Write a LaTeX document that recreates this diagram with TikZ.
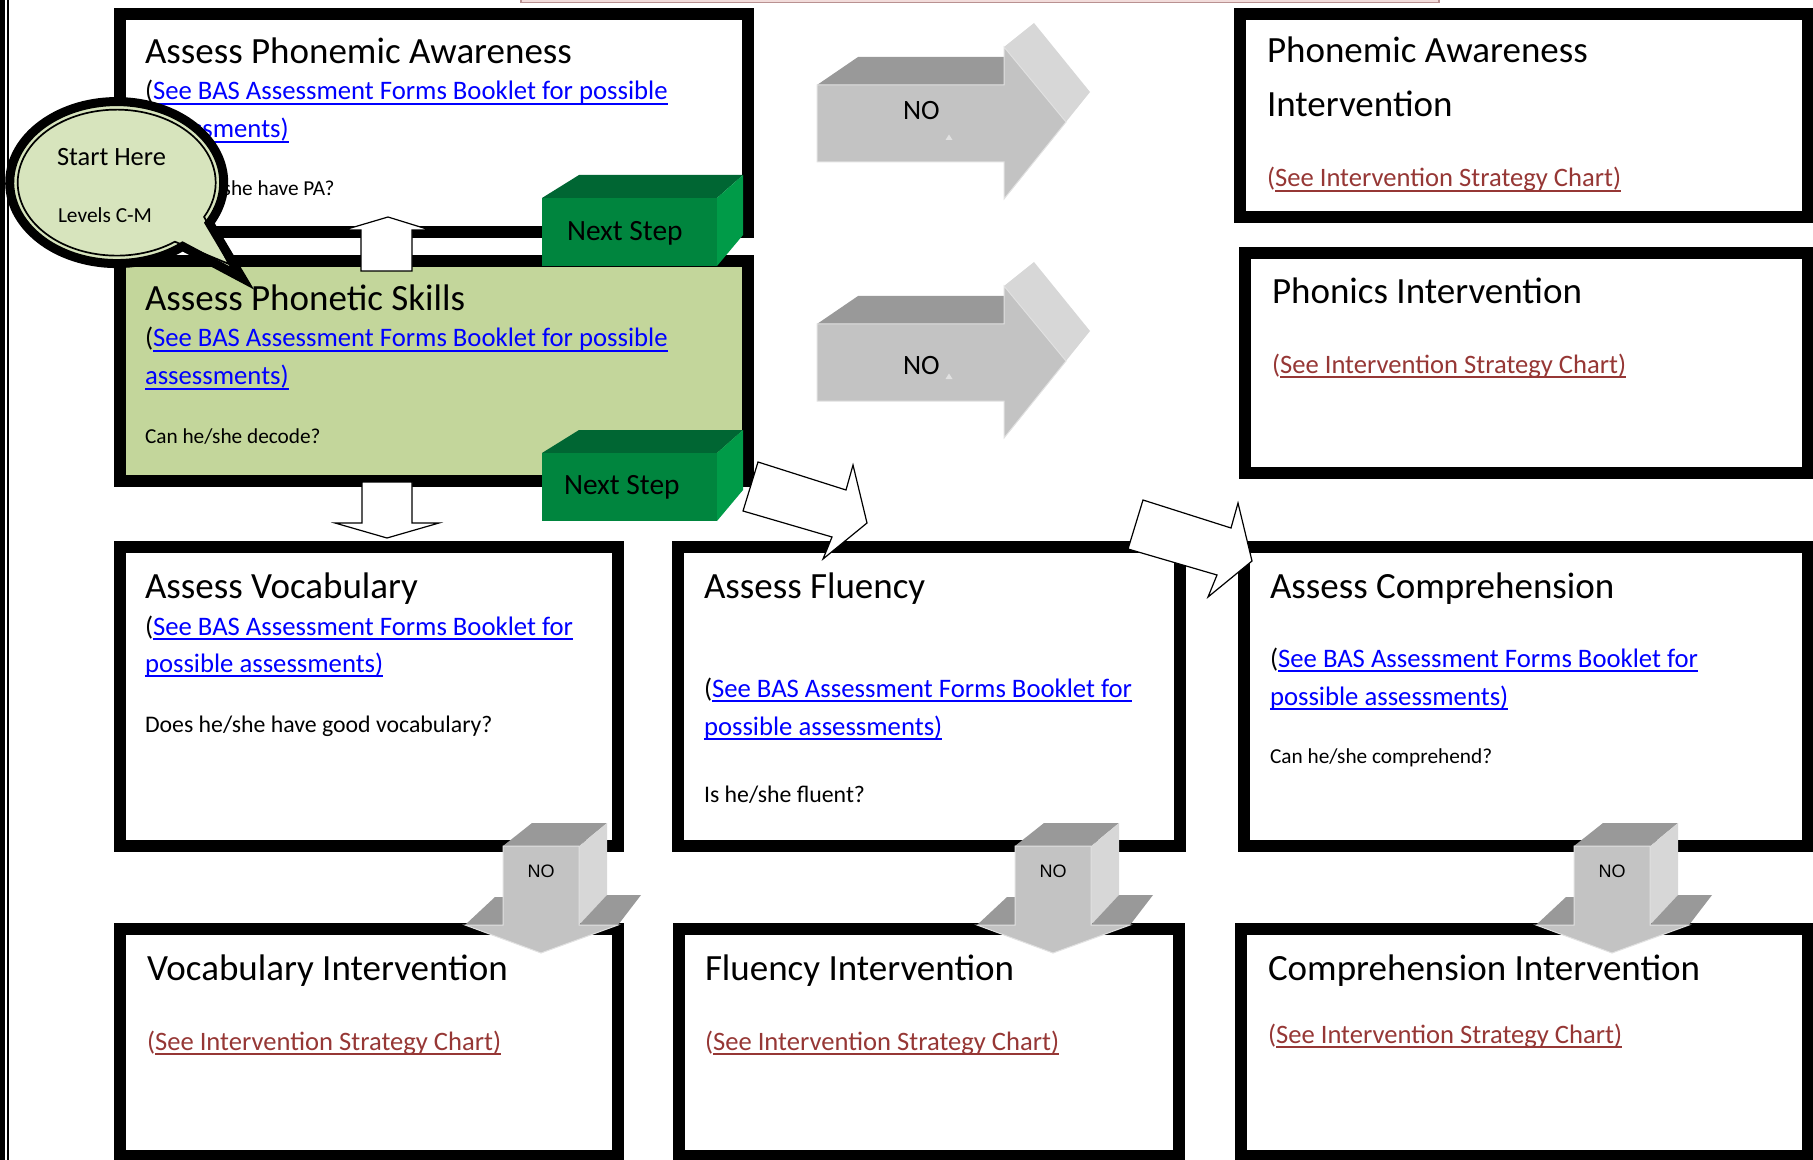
\documentclass[tikz,border=0pt]{standalone}
\usepackage{fontspec}
\setmainfont{Carlito}
\newfontfamily\arialf{Liberation Sans}
\newcommand{\myul}[1]{\setbox0=\hbox{#1}\rlap{\rule[-2.3pt]{\wd0}{0.7pt}}\box0}
\definecolor{lnkblue}{RGB}{0,0,255}
\definecolor{ibrown}{RGB}{150,55,53}
\definecolor{skillgreen}{RGB}{195,214,155}
\definecolor{bubblegreen}{RGB}{215,228,189}
\definecolor{gfront}{RGB}{0,133,62}
\definecolor{gtop}{RGB}{0,102,51}
\definecolor{gside}{RGB}{0,155,72}
\definecolor{ntop}{RGB}{153,153,153}
\definecolor{nfront}{RGB}{195,195,195}
\definecolor{nside}{RGB}{215,215,215}
\definecolor{nedge}{RGB}{225,225,225}
\definecolor{pinkline}{RGB}{185,145,145}
\definecolor{pinkfill}{RGB}{242,220,219}
\begin{document}
\begin{tikzpicture}[x=0.5pt,y=-0.5pt,
  bx/.style={draw=black, line width=6pt, fill=white, rectangle, inner sep=0pt, outer sep=0pt},
  tx/.style={anchor=base west, inner sep=0pt, outer sep=0pt},
  ttl/.style={tx, font=\fontsize{18.5}{22}\selectfont},
  lnk/.style={tx, font=\fontsize{13.35}{16}\selectfont},
  ilnk/.style={tx, font=\fontsize{13.3}{16}\selectfont, text=ibrown},
  qs/.style={tx, font=\fontsize{10.65}{13}\selectfont},
  qb/.style={tx, font=\fontsize{11.9}{14}\selectfont},
  nxt/.style={tx, font=\fontsize{14.7}{17}\selectfont},
  nor/.style={tx, font=\fontsize{14}{17}\selectfont},
  nod/.style={anchor=base, inner sep=0pt, font=\arialf\fontsize{9}{11}\selectfont},
  wa/.style={fill=white, draw=black, line width=0.6pt, line join=miter}]
\useasboundingbox (0,0) rectangle (1813,1160);
\begin{scope}
\clip (0,0) rectangle (1813,1160);
% page border and top bar
\fill[black] (0,0) rectangle (4.5,1160);
\fill[black] (7.3,0) rectangle (9.3,1160);
\filldraw[fill=pinkfill, draw=pinkline, line width=0.8pt] (521,-10) rectangle (1439,2.5);

% boxes
\node[bx, minimum width=314pt, minimum height=109pt] (pa) at (434,123) {};
\node[bx, fill=skillgreen, minimum width=314pt, minimum height=110pt] (ps) at (434,371) {};
\node[bx, minimum width=284pt, minimum height=101.5pt] (pai) at (1524,115.5) {};
\node[bx, minimum width=281.5pt, minimum height=110pt] (pi) at (1526.5,363) {};
\node[bx, minimum width=249pt, minimum height=149.5pt] (av) at (369,696.5) {};
\node[bx, minimum width=251pt, minimum height=149.5pt] (af) at (929,696.5) {};
\node[bx, minimum width=282pt, minimum height=149.5pt] (ac) at (1526,696.5) {};
\node[bx, minimum width=249pt, minimum height=113.5pt] (vi) at (369,1042.5) {};
\node[bx, minimum width=250pt, minimum height=113.5pt] (fi) at (929,1042.5) {};
\node[bx, minimum width=283.5pt, minimum height=113.5pt] (ci) at (1524.5,1042.5) {};

% texts row 1
\node[ttl] (pa-t) at (145,64) {Assess Phonemic Awareness};
\node[lnk] (pa-l1) at (145,100) {(\textcolor{lnkblue}{\myul{See BAS Assessment Forms Booklet for possible}}};
\node[lnk] (pa-l2) at (145,138) {\textcolor{lnkblue}{\myul{assessments)}}};
\node[qs] (pa-q) at (145,196) {Does he/she have PA?};

\node[ttl] (ps-t) at (145,311) {Assess Phonetic Skills};
\node[lnk] (ps-l1) at (145,347) {(\textcolor{lnkblue}{\myul{See BAS Assessment Forms Booklet for possible}}};
\node[lnk] (ps-l2) at (145,385) {\textcolor{lnkblue}{\myul{assessments)}}};
\node[qs] (ps-q) at (145,443) {Can he/she decode?};

\node[ttl] (pai-t1) at (1267,63) {Phonemic Awareness};
\node[ttl] (pai-t2) at (1267,117) {Intervention};
\node[ilnk] (pai-l) at (1267,187) {(\myul{See Intervention Strategy Chart)}};

\node[ttl] (pi-t) at (1272,304) {Phonics Intervention};
\node[ilnk] (pi-l) at (1272,373) {(\myul{See Intervention Strategy Chart)}};

% texts row 2
\node[ttl] (av-t) at (145,598) {Assess Vocabulary};
\node[lnk] (av-l1) at (145,635) {(\textcolor{lnkblue}{\myul{See BAS Assessment Forms Booklet for}}};
\node[lnk] (av-l2) at (145,672) {\textcolor{lnkblue}{\myul{possible assessments)}}};
\node[qb] (av-q) at (145,732) {Does he/she have good vocabulary?};

\node[ttl] (af-t) at (704,598) {Assess Fluency};
\node[lnk] (af-l1) at (704,697) {(\textcolor{lnkblue}{\myul{See BAS Assessment Forms Booklet for}}};
\node[lnk] (af-l2) at (704,735) {\textcolor{lnkblue}{\myul{possible assessments)}}};
\node[qb] (af-q) at (704,802) {Is he/she fluent?};

\node[ttl] (ac-t) at (1270,598) {Assess Comprehension};
\node[lnk] (ac-l1) at (1270,667) {(\textcolor{lnkblue}{\myul{See BAS Assessment Forms Booklet for}}};
\node[lnk] (ac-l2) at (1270,705) {\textcolor{lnkblue}{\myul{possible assessments)}}};
\node[qs] (ac-q) at (1270,763) {Can he/she comprehend?};

% texts row 3
\node[ttl] (vi-t) at (147,980) {Vocabulary Intervention};
\node[ilnk] (vi-l) at (147,1050) {(\myul{See Intervention Strategy Chart)}};
\node[ttl] (fi-t) at (705,980) {Fluency Intervention};
\node[ilnk] (fi-l) at (705,1050) {(\myul{See Intervention Strategy Chart)}};
\node[ttl] (ci-t) at (1268,980) {Comprehension Intervention};
\node[ilnk] (ci-l) at (1268,1043) {(\myul{See Intervention Strategy Chart)}};

% right NO arrows
\foreach \dy in {0,239}{
\begin{scope}[shift={(0,\dy)}]
\fill[ntop] (817,85) -- (858,57) -- (1004,57) -- (1004,85) -- cycle;
\fill[nside] (1004,47) -- (1034,23) -- (1090,92) -- (1004,199) -- cycle;
\filldraw[fill=nfront, draw=nedge, line width=0.5pt] (817,85) -- (1004,85) -- (1004,47) -- (1066,122) -- (1004,199) -- (1004,162) -- (817,162) -- cycle;
\fill[nedge] (945.5,140) -- (949,134.5) -- (952.5,140) -- cycle;
\end{scope}}
\node[nor] (noa) at (903,120) {NO};
\node[nor] (nob) at (903,374) {NO};

% white up / down arrows
\filldraw[wa] (361,271) -- (361,230) -- (344,230) -- (388,217) -- (430,230) -- (412,230) -- (412,271) -- cycle;
\filldraw[wa] (362,482) -- (412,482) -- (412,523) -- (439,523) -- (387,538) -- (335,523) -- (362,523) -- cycle;

% green Next Step cuboids
\foreach \dy in {0,255}{
\begin{scope}[shift={(0,\dy)}]
\fill[gtop] (542,198) -- (579,175) -- (743,175) -- (717,198) -- cycle;
\fill[gside] (717,198) -- (743,175) -- (743,235) -- (717,266) -- cycle;
\fill[gfront] (542,198) rectangle (717,266);
\end{scope}}
\node[nxt] (ns1) at (567,241) {Next Step};
\node[nxt] (ns2) at (564,494) {Next Step};

% bent white arrows
\foreach \sx/\sy in {0/0, 385/38}{
\begin{scope}[shift={(\sx,\sy)}]
\filldraw[wa] (758,462) -- (846,490) -- (853,465) -- (867,523) -- (823,559) -- (832,537) -- (743,511) -- cycle;
\end{scope}}

% down NO arrows
\foreach \sx in {0,512,1071}{
\begin{scope}[shift={(\sx,0)}]
\fill[ntop] (503,846) -- (532,823) -- (607,823) -- (579,846) -- cycle;
\fill[nside] (579,846) -- (607,823) -- (607,895) -- (579,925) -- cycle;
\fill[ntop] (465,925) -- (495,897) -- (503,897) -- (503,925) -- cycle;
\fill[ntop] (579,925) -- (607,895) -- (641,895) -- (618,925) -- cycle;
\filldraw[fill=nfront, draw=nedge, line width=0.5pt] (503,846) -- (579,846) -- (579,925) -- (618,925) -- (541,953) -- (465,925) -- (503,925) -- cycle;
\end{scope}}
\node[nod] (nov) at (541,877) {NO};
\node[nod] (nof) at (1053,877) {NO};
\node[nod] (noc) at (1612,877) {NO};

% speech bubble
\filldraw[fill=bubblegreen, draw=black, line width=4.5pt, line join=miter] (182.6,246.4) arc[start angle=52, end angle=390, x radius=107, y radius=81] -- (242,278) -- cycle;
\draw[black, line width=0.85pt] (174.9,241.7) arc[start angle=54, end angle=388, x radius=99, y radius=73] -- (229,264) -- cycle;
\node[tx, font=\fontsize{13.2}{16}\selectfont] (sh) at (57,166) {Start Here};
\node[tx, font=\fontsize{10.7}{13}\selectfont] (lv) at (58,223) {Levels C-M};
\end{scope}
\end{tikzpicture}
\end{document}
